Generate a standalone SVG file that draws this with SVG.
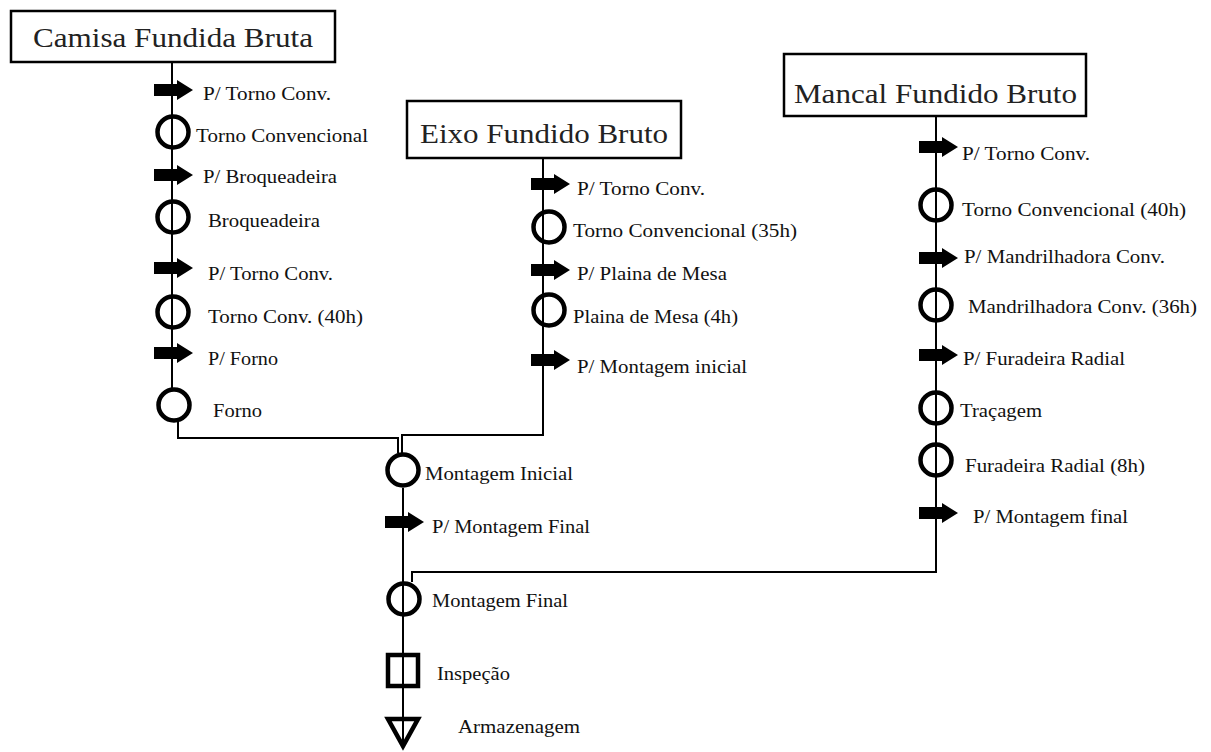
<svg xmlns="http://www.w3.org/2000/svg" width="1211" height="752" viewBox="0 0 1211 752">
<style>
.bg{fill:#fff}
.box{fill:#fff;stroke:#000;stroke-width:2.5}
.ttl{font-family:"Liberation Serif",serif;font-size:28px;fill:#222}
.lbl{font-family:"Liberation Serif",serif;font-size:19px;fill:#111}
.op{fill:none;stroke:#000;stroke-width:4.5}
.ln{fill:none;stroke:#000;stroke-width:2}
</style>
<defs>
<path id="arr" d="M-18,-6 H5 V-10 L21,0 L5,10 V6 H-18 Z" fill="#000"/>
</defs>
<rect class="bg" x="0" y="0" width="1211" height="752"/>

<g id="connectors">
<path class="ln" d="M172,62 V389"/>
<path class="ln" d="M178,421 V438 H398 V453"/>
<path class="ln" d="M543,158 V435 H402 V453"/>
<path class="ln" d="M936,116 V572 H412 V582"/>
<path class="ln" d="M403,488 V746"/>
</g>

<g id="camisa">
<rect class="box" x="11" y="11" width="324" height="51"/>
<text class="ttl" x="33" y="47" textLength="280" lengthAdjust="spacingAndGlyphs">Camisa Fundida Bruta</text>
</g>
<g id="c1"><use href="#arr" transform="translate(172,90)"/><text class="lbl" x="203" y="100" textLength="128" lengthAdjust="spacingAndGlyphs">P/ Torno Conv.</text></g>
<g id="c2"><circle class="op" cx="173" cy="132" r="15.5"/><text class="lbl" x="196" y="142" textLength="172" lengthAdjust="spacingAndGlyphs">Torno Convencional</text></g>
<g id="c3"><use href="#arr" transform="translate(172,175)"/><text class="lbl" x="203" y="183" textLength="134" lengthAdjust="spacingAndGlyphs">P/ Broqueadeira</text></g>
<g id="c4"><circle class="op" cx="173" cy="217" r="15.5"/><text class="lbl" x="208" y="227" textLength="112" lengthAdjust="spacingAndGlyphs">Broqueadeira</text></g>
<g id="c5"><use href="#arr" transform="translate(172,268)"/><text class="lbl" x="208" y="280" textLength="125" lengthAdjust="spacingAndGlyphs">P/ Torno Conv.</text></g>
<g id="c6"><circle class="op" cx="173" cy="312" r="15.5"/><text class="lbl" x="208" y="323" textLength="155" lengthAdjust="spacingAndGlyphs">Torno Conv. (40h)</text></g>
<g id="c7"><use href="#arr" transform="translate(172,353)"/><text class="lbl" x="208" y="365" textLength="70" lengthAdjust="spacingAndGlyphs">P/ Forno</text></g>
<g id="c8"><circle class="op" cx="174" cy="405" r="15.5"/><text class="lbl" x="213" y="417" textLength="49" lengthAdjust="spacingAndGlyphs">Forno</text></g>

<g id="eixo">
<rect class="box" x="407" y="101" width="274" height="57"/>
<text class="ttl" x="420" y="143" textLength="248" lengthAdjust="spacingAndGlyphs">Eixo Fundido Bruto</text>
</g>
<g id="e1"><use href="#arr" transform="translate(549,184)"/><text class="lbl" x="577" y="195" textLength="128" lengthAdjust="spacingAndGlyphs">P/ Torno Conv.</text></g>
<g id="e2"><circle class="op" cx="549" cy="227" r="15.5"/><text class="lbl" x="573" y="237" textLength="224" lengthAdjust="spacingAndGlyphs">Torno Convencional (35h)</text></g>
<g id="e3"><use href="#arr" transform="translate(549,270)"/><text class="lbl" x="577" y="280" textLength="150" lengthAdjust="spacingAndGlyphs">P/ Plaina de Mesa</text></g>
<g id="e4"><circle class="op" cx="549" cy="310" r="15.5"/><text class="lbl" x="573" y="323" textLength="165" lengthAdjust="spacingAndGlyphs">Plaina de Mesa (4h)</text></g>
<g id="e5"><use href="#arr" transform="translate(549,360)"/><text class="lbl" x="577" y="373" textLength="170" lengthAdjust="spacingAndGlyphs">P/ Montagem inicial</text></g>

<g id="mancal">
<rect class="box" x="784" y="54" width="302" height="62"/>
<text class="ttl" x="794" y="103" textLength="283" lengthAdjust="spacingAndGlyphs">Mancal Fundido Bruto</text>
</g>
<g id="m1"><use href="#arr" transform="translate(937,147)"/><text class="lbl" x="962" y="160" textLength="128" lengthAdjust="spacingAndGlyphs">P/ Torno Conv.</text></g>
<g id="m2"><circle class="op" cx="936" cy="205" r="15.5"/><text class="lbl" x="962" y="216" textLength="224" lengthAdjust="spacingAndGlyphs">Torno Convencional (40h)</text></g>
<g id="m3"><use href="#arr" transform="translate(937,258)"/><text class="lbl" x="964" y="263" textLength="201" lengthAdjust="spacingAndGlyphs">P/ Mandrilhadora Conv.</text></g>
<g id="m4"><circle class="op" cx="936" cy="305" r="15.5"/><text class="lbl" x="968" y="313" textLength="229" lengthAdjust="spacingAndGlyphs">Mandrilhadora Conv. (36h)</text></g>
<g id="m5"><use href="#arr" transform="translate(937,355)"/><text class="lbl" x="963" y="365" textLength="162" lengthAdjust="spacingAndGlyphs">P/ Furadeira Radial</text></g>
<g id="m6"><circle class="op" cx="936" cy="408" r="15.5"/><text class="lbl" x="960" y="417" textLength="82" lengthAdjust="spacingAndGlyphs">Traçagem</text></g>
<g id="m7"><circle class="op" cx="936" cy="460" r="15.5"/><text class="lbl" x="965" y="472" textLength="180" lengthAdjust="spacingAndGlyphs">Furadeira Radial (8h)</text></g>
<g id="m8"><use href="#arr" transform="translate(937,513)"/><text class="lbl" x="973" y="523" textLength="155" lengthAdjust="spacingAndGlyphs">P/ Montagem final</text></g>

<g id="montagem-inicial"><circle class="op" cx="403" cy="470" r="15.5"/><text class="lbl" x="425" y="480" textLength="148" lengthAdjust="spacingAndGlyphs">Montagem Inicial</text></g>
<g id="p-montagem-final"><use href="#arr" transform="translate(403,522)"/><text class="lbl" x="432" y="533" textLength="158" lengthAdjust="spacingAndGlyphs">P/ Montagem Final</text></g>
<g id="montagem-final"><circle class="op" cx="404" cy="599" r="15.5"/><text class="lbl" x="432" y="607" textLength="136" lengthAdjust="spacingAndGlyphs">Montagem Final</text></g>
<g id="inspecao"><rect class="op" x="388" y="655" width="30" height="31"/><text class="lbl" x="437" y="680" textLength="73" lengthAdjust="spacingAndGlyphs">Inspeção</text></g>
<g id="armazenagem"><polygon class="op" points="388,719 418,719 403,746"/><text class="lbl" x="458" y="733" textLength="122" lengthAdjust="spacingAndGlyphs">Armazenagem</text></g>
</svg>
